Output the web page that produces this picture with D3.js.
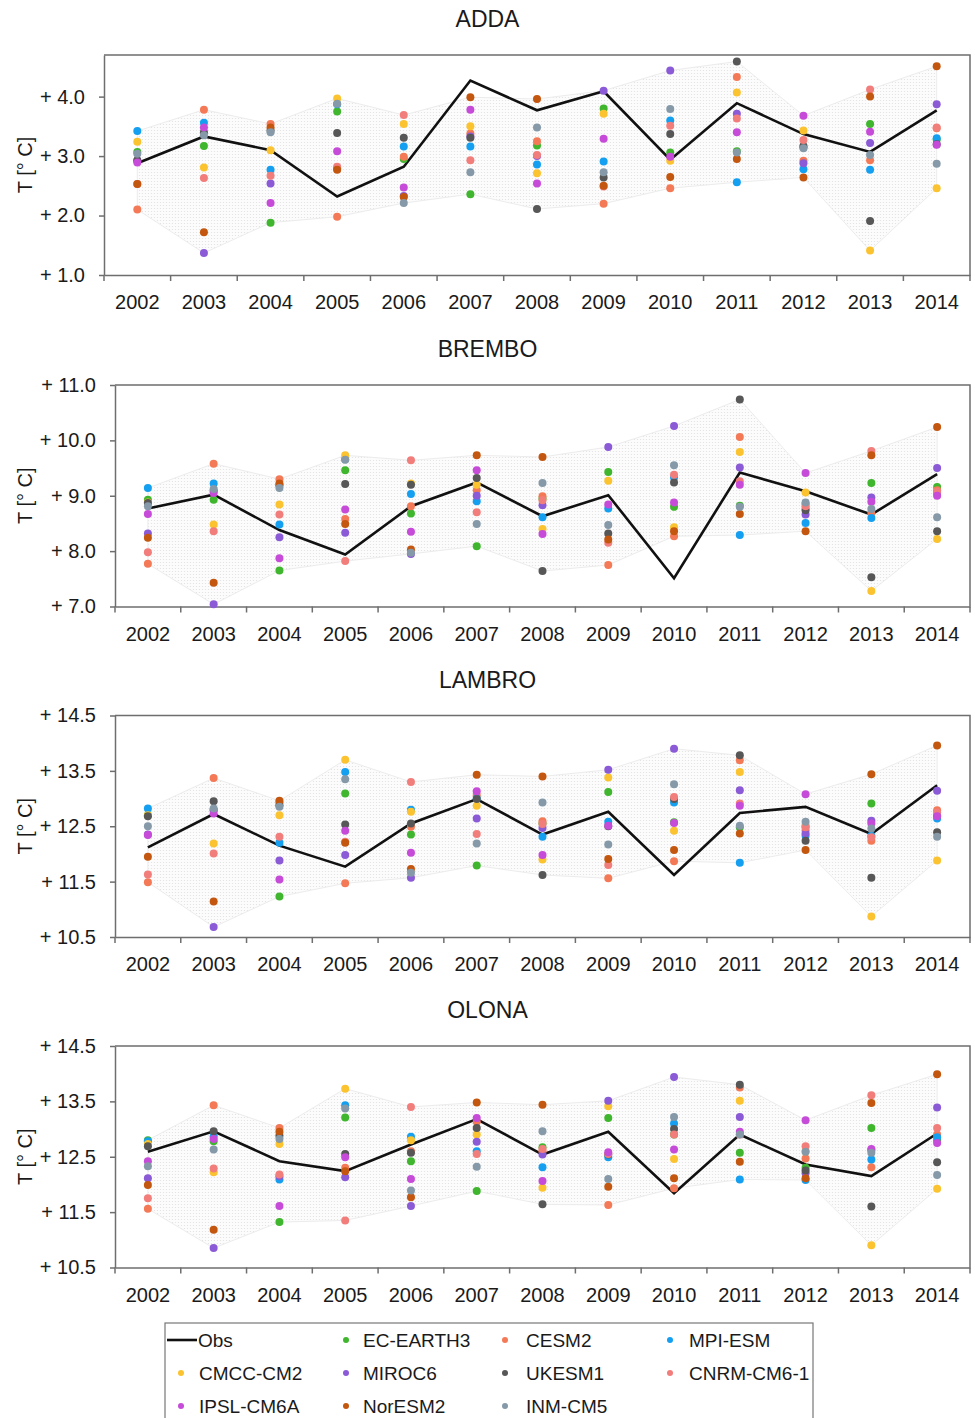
<!DOCTYPE html>
<html>
<head>
<meta charset="utf-8">
<title>Obs vs CMIP6 models</title>
<script src="https://cdn.jsdelivr.net/npm/d3@7"></script>
<style>
body { margin: 0; background: #fff; }
svg text { font-family: "Liberation Sans", Arial, sans-serif; fill: #1a1a1a; }
</style>
</head>
<body>
<div class="chart"></div>
<script>
var years = [2002, 2003, 2004, 2005, 2006, 2007, 2008, 2009, 2010, 2011, 2012, 2013, 2014];

var models = ["EC-EARTH3", "CESM2", "MPI-ESM", "CMCC-CM2", "MIROC6",
              "UKESM1", "CNRM-CM6-1", "IPSL-CM6A", "NorESM2", "INM-CM5"];
var modelColors = ["#3fb62e", "#f47a57", "#159ff0", "#fbc330", "#8b5ad6",
                   "#575757", "#f27e7c", "#c64bd8", "#c4570f", "#8599a8"];

// ADDA
var addaObs = [2.88, 3.33, 3.10, 2.32, 2.82, 4.27, 3.77, 4.09, 2.94, 3.89, 3.37, 3.07, 3.77];
var addaModels = [
  [3.07, 3.17, 1.88, 3.75, 2.95, 2.36, 3.18, 3.80, 3.06, 3.08, 3.15, 3.54, 3.28], // EC-EARTH3
  [2.10, 3.78, 3.54, 1.98, 2.99, 3.38, 3.25, 2.20, 2.46, 4.33, 2.92, 2.93, 3.47], // CESM2
  [3.42, 3.56, 2.77, 3.87, 3.16, 3.16, 2.86, 2.91, 3.60, 2.56, 2.78, 2.77, 3.30], // MPI-ESM
  [3.24, 2.81, 3.10, 3.97, 3.54, 3.50, 2.71, 3.71, 2.92, 4.07, 3.43, 1.41, 2.46], // CMCC-CM2
  [2.92, 1.37, 2.54, 2.79, 2.33, 3.33, 3.00, 4.10, 4.44, 3.71, 2.88, 3.22, 3.87], // MIROC6
  [2.93, 3.40, 3.43, 3.39, 3.31, 3.31, 2.11, 2.64, 3.37, 4.59, 3.17, 1.91, 3.20], // UKESM1
  [2.53, 2.63, 2.67, 2.82, 3.69, 2.93, 3.02, 2.49, 3.51, 3.63, 3.27, 4.12, 3.48], // CNRM-CM6-1
  [2.89, 3.48, 2.21, 3.08, 2.47, 3.78, 2.54, 3.29, 2.99, 3.40, 3.68, 3.41, 3.19], // IPSL-CM6A
  [2.53, 1.72, 3.48, 2.77, 2.31, 3.99, 3.96, 2.50, 2.65, 2.95, 2.64, 4.00, 4.51], // NorESM2
  [3.04, 3.35, 3.40, 3.88, 2.21, 2.73, 3.48, 2.73, 3.79, 3.06, 3.13, 3.02, 2.87]  // INM-CM5
];
var addaTicks = [1.0, 2.0, 3.0, 4.0];

// BREMBO
var bremboObs = [8.77, 9.02, 8.38, 7.94, 8.81, 9.24, 8.63, 9.01, 7.51, 9.42, 9.08, 8.66, 9.39];
var bremboModels = [
  [8.93, 8.93, 7.65, 9.46, 8.68, 8.09, 8.95, 9.43, 8.80, 8.82, 8.85, 9.23, 9.16],
  [7.77, 9.58, 9.30, 8.58, 8.81, 9.10, 8.99, 7.75, 8.27, 10.06, 8.78, 8.69, 9.10],
  [9.14, 9.22, 8.48, 9.66, 9.03, 8.90, 8.61, 8.77, 9.33, 8.29, 8.51, 8.60, 9.05],
  [8.88, 8.48, 8.84, 9.73, 9.22, 9.20, 8.40, 9.27, 8.43, 9.79, 9.06, 7.28, 8.22],
  [8.32, 7.04, 8.25, 8.33, 7.95, 9.00, 8.83, 9.88, 10.26, 9.51, 8.66, 8.97, 9.50],
  [8.87, 9.09, 9.19, 9.21, 9.20, 9.32, 7.64, 8.32, 9.24, 10.74, 8.74, 7.53, 8.36],
  [7.98, 8.36, 8.66, 7.82, 9.64, 8.70, 8.92, 8.15, 9.38, 9.26, 8.81, 9.81, 9.07],
  [8.67, 9.05, 7.87, 8.75, 8.35, 9.46, 8.31, 8.84, 8.88, 9.20, 9.41, 8.89, 9.00],
  [8.24, 7.43, 9.22, 8.49, 8.03, 9.73, 9.70, 8.21, 8.36, 8.67, 8.36, 9.73, 10.24],
  [8.81, 9.12, 9.14, 9.65, 7.97, 8.49, 9.23, 8.47, 9.55, 8.80, 8.88, 8.76, 8.61]
];
var bremboTicks = [7.0, 8.0, 9.0, 10.0, 11.0];

// LAMBRO
var lambroObs = [12.12, 12.72, 12.15, 11.77, 12.55, 12.99, 12.35, 12.76, 11.62, 12.74, 12.85, 12.36, 13.24];
var lambroModels = [
  [12.70, 12.80, 11.23, 13.09, 12.35, 11.79, 12.55, 13.12, 12.57, 12.48, 12.50, 12.91, 12.70],
  [11.49, 13.37, 12.93, 11.47, 12.49, 13.06, 12.59, 11.56, 11.87, 13.69, 12.43, 12.24, 12.79],
  [12.82, 12.79, 12.20, 13.48, 12.80, 13.00, 12.31, 12.58, 12.93, 11.84, 12.33, 12.33, 12.64],
  [12.70, 12.19, 12.70, 13.70, 12.76, 12.87, 11.90, 13.38, 12.42, 13.48, 12.52, 10.87, 11.88],
  [12.35, 10.68, 11.88, 11.98, 11.57, 12.64, 12.47, 13.52, 13.90, 13.15, 12.37, 12.60, 13.14],
  [12.68, 12.95, 12.88, 12.53, 12.55, 12.99, 11.62, 12.50, 12.99, 13.78, 12.24, 11.57, 12.39],
  [11.63, 12.01, 12.31, 12.22, 13.30, 12.36, 12.54, 11.80, 13.03, 12.91, 12.48, 12.30, 12.75],
  [12.34, 12.73, 11.54, 12.42, 12.02, 13.13, 11.98, 12.51, 12.56, 12.87, 13.08, 12.55, 12.68],
  [11.95, 11.14, 12.96, 12.20, 11.73, 13.43, 13.40, 11.91, 12.07, 12.37, 12.07, 13.44, 13.96],
  [12.50, 12.82, 12.85, 13.35, 11.66, 12.19, 12.93, 12.17, 13.26, 12.51, 12.58, 12.46, 12.31]
];
var lambroTicks = [10.5, 11.5, 12.5, 13.5, 14.5];

// OLONA
var olonaObs = [12.59, 12.96, 12.42, 12.24, 12.72, 13.18, 12.54, 12.95, 11.84, 12.90, 12.36, 12.15, 12.92];
var olonaModels = [
  [12.80, 12.78, 11.32, 13.21, 12.42, 11.88, 12.67, 13.20, 12.90, 12.57, 12.30, 13.02, 12.80],
  [11.56, 13.43, 13.02, 12.30, 12.60, 13.13, 12.60, 11.63, 11.93, 13.75, 12.47, 12.31, 12.90],
  [12.78, 12.87, 12.09, 13.43, 12.86, 12.60, 12.31, 12.49, 13.10, 12.09, 12.08, 12.45, 12.85],
  [12.73, 12.22, 12.73, 13.73, 12.80, 12.90, 11.94, 13.41, 12.46, 13.51, 12.60, 10.90, 11.92],
  [12.11, 10.85, 12.15, 12.13, 11.61, 12.77, 12.54, 13.51, 13.94, 13.22, 12.20, 12.62, 13.39],
  [12.69, 12.96, 12.88, 12.55, 12.57, 13.02, 11.64, 12.54, 13.00, 13.80, 12.25, 11.60, 12.40],
  [11.75, 12.29, 12.18, 11.35, 13.40, 12.55, 12.64, 12.55, 12.90, 12.90, 12.69, 13.61, 13.02],
  [12.42, 12.82, 11.61, 12.49, 12.10, 13.20, 12.06, 12.58, 12.63, 12.95, 13.16, 12.64, 12.75],
  [11.99, 11.18, 12.95, 12.24, 11.77, 13.48, 13.44, 11.96, 12.11, 12.41, 12.11, 13.47, 13.99],
  [12.33, 12.63, 12.82, 13.37, 11.89, 12.32, 12.96, 12.10, 13.22, 12.90, 12.59, 12.57, 12.17]
];
var olonaTicks = [10.5, 11.5, 12.5, 13.5, 14.5];

// layout of the four panels
var panels = [
  {name: "ADDA",   obs: addaObs,   mod: addaModels,   ticks: addaTicks,   ymax: 4.7,  top: 55,   bottom: 275,   left: 104},
  {name: "BREMBO", obs: bremboObs, mod: bremboModels, ticks: bremboTicks, ymax: 11.0, top: 385,  bottom: 606.5, left: 115},
  {name: "LAMBRO", obs: lambroObs, mod: lambroModels, ticks: lambroTicks, ymax: 14.5, top: 715.5, bottom: 937,  left: 115},
  {name: "OLONA",  obs: olonaObs,  mod: olonaModels,  ticks: olonaTicks,  ymax: 14.5, top: 1046, bottom: 1267.5, left: 115}
];
var right = 970;
var axisGrey = "#6e6e6e";
var fmt = function(d) { return "+ " + d.toFixed(1); };

var svg = d3.select(".chart")
    .append("svg")
    .attr("width", 975)
    .attr("height", 1418);

// dotted fill for the model envelope
var pat = svg.append("defs").append("pattern")
    .attr("id", "dots")
    .attr("width", 3).attr("height", 3)
    .attr("patternUnits", "userSpaceOnUse");
pat.append("rect").attr("width", 3).attr("height", 3).attr("fill", "#fcfcfc");
pat.append("circle").attr("cx", 1.5).attr("cy", 1.5).attr("r", 0.6).attr("fill", "#e0e0e0");

panels.forEach(function(p) {
  var g = svg.append("g");

  var x = d3.scaleBand().domain(years).range([p.left, right]);
  var xc = function(i) { return x(years[i]) + x.bandwidth() / 2; };
  var y = d3.scaleLinear().domain([p.ticks[0], p.ymax]).range([p.bottom, p.top]);

  // title
  g.append("text")
    .attr("x", 487.5).attr("y", p.top - 28)
    .attr("text-anchor", "middle")
    .style("font-size", "23px")
    .text(p.name);

  // envelope = min..max of the models for each year
  var maxs = years.map(function(yr, i) { return d3.max(p.mod, function(m) { return m[i]; }); });
  var mins = years.map(function(yr, i) { return d3.min(p.mod, function(m) { return m[i]; }); });
  var poly = maxs.map(function(v, i) { return [xc(i), y(v)]; })
    .concat(mins.map(function(v, i) { return [xc(i), y(v)]; }).reverse());
  g.append("path")
    .attr("d", "M" + poly.join("L") + "Z")
    .attr("fill", "url(#dots)")
    .attr("stroke", "#ececec")
    .attr("stroke-width", 1);

  // frame: top and right
  g.append("path")
    .attr("d", "M" + p.left + "," + p.top + "H" + right + "V" + p.bottom)
    .attr("fill", "none").attr("stroke", axisGrey).attr("stroke-width", 1.5);

  // y axis
  var ya = g.append("g")
    .attr("transform", "translate(" + p.left + ",0)")
    .call(d3.axisLeft(y).tickValues(p.ticks).tickSize(5).tickSizeOuter(0).tickPadding(14).tickFormat(fmt));
  ya.select(".domain").attr("stroke", axisGrey).attr("stroke-width", 1.5);
  ya.selectAll(".tick line").attr("stroke", axisGrey).attr("stroke-width", 1.5);
  ya.selectAll("text").style("font-size", "20px").attr("fill", "#1a1a1a");

  // x axis: labels at band centres, ticks at band edges
  var xa = g.append("g")
    .attr("transform", "translate(0," + p.bottom + ")")
    .call(d3.axisBottom(x).tickSize(0).tickSizeOuter(0).tickPadding(20));
  xa.select(".domain").attr("stroke", axisGrey).attr("stroke-width", 1.5);
  xa.selectAll("text").style("font-size", "20px").attr("fill", "#1a1a1a");
  var edges = years.map(function(yr) { return x(yr); }).concat([right]);
  g.selectAll(".edge").data(edges).enter().append("line")
    .attr("x1", function(d) { return d; }).attr("x2", function(d) { return d; })
    .attr("y1", p.bottom).attr("y2", p.bottom + 6)
    .attr("stroke", axisGrey).attr("stroke-width", 1.5);

  // y label
  g.append("text")
    .attr("transform", "translate(32," + (p.top + p.bottom) / 2 + ") rotate(-90)")
    .attr("text-anchor", "middle")
    .style("font-size", "20px")
    .text("T [° C]");

  // observed line
  var line = d3.line()
    .x(function(d, i) { return xc(i); })
    .y(function(d) { return y(d); });
  g.append("path")
    .datum(p.obs)
    .attr("d", line)
    .attr("fill", "none")
    .attr("stroke", "#111")
    .attr("stroke-width", 2.6)
    .attr("stroke-linejoin", "miter");

  // model dots
  p.mod.forEach(function(series, k) {
    g.selectAll(".m" + k).data(series).enter().append("circle")
      .attr("class", "m" + k)
      .attr("cx", function(d, i) { return xc(i); })
      .attr("cy", function(d) { return y(d); })
      .attr("r", 4)
      .attr("fill", modelColors[k]);
  });
});

// legend
var lg = svg.append("g");
lg.append("rect")
  .attr("x", 165).attr("y", 1323).attr("width", 648).attr("height", 110)
  .attr("fill", "#fff").attr("stroke", "#777").attr("stroke-width", 1.2);
var colDot = [181, 346, 505, 670], colText = [199, 363, 526, 689], rowY = [1340, 1373, 1406];
lg.append("line")
  .attr("x1", 167).attr("x2", 197).attr("y1", rowY[0]).attr("y2", rowY[0])
  .attr("stroke", "#111").attr("stroke-width", 2.6);
lg.append("text").attr("x", colText[0] - 1).attr("y", rowY[0] + 7)
  .style("font-size", "19px").text("Obs");
models.forEach(function(m, i) {
  var r = Math.floor((i + 1) / 4), c = (i + 1) % 4;
  lg.append("circle").attr("cx", colDot[c]).attr("cy", rowY[r]).attr("r", 3)
    .attr("fill", modelColors[i]);
  lg.append("text").attr("x", colText[c]).attr("y", rowY[r] + 7)
    .style("font-size", "19px").text(m);
});
</script>
</body>
</html>
